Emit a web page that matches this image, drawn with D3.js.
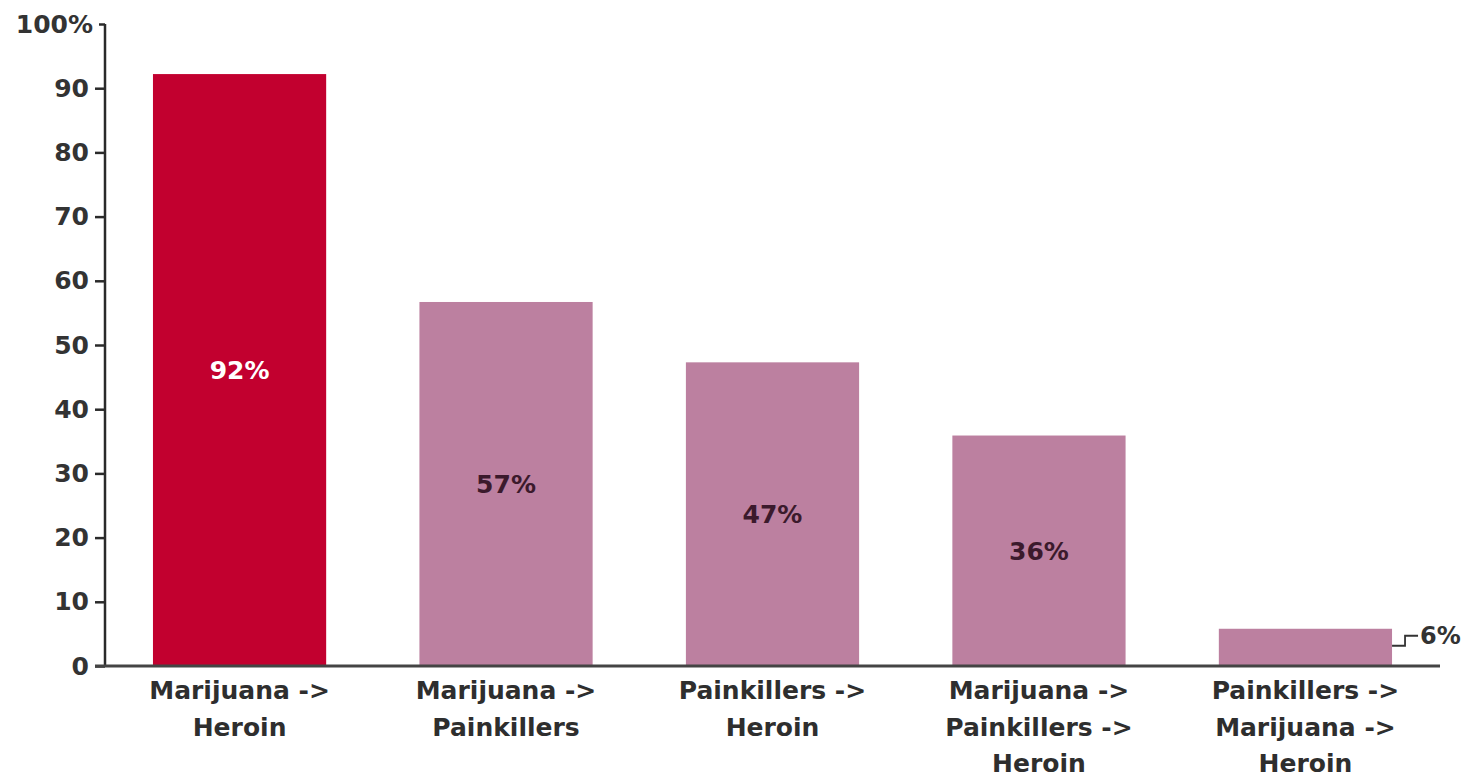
<!DOCTYPE html>
<html>
<head>
<meta charset="utf-8">
<script src="https://cdn.jsdelivr.net/npm/d3@7/dist/d3.min.js"></script>
<style>
  html, body { margin: 0; padding: 0; background: #fff; }
  svg { display: block; }
  text { font-family: "DejaVu Sans", "Open Sans", sans-serif; font-weight: 700; }
</style>
</head>
<body>
<svg id="chart" width="1472" height="779"></svg>
<script>
const categories = [
  ["Marijuana ->", "Heroin"],
  ["Marijuana ->", "Painkillers"],
  ["Painkillers ->", "Heroin"],
  ["Marijuana ->", "Painkillers ->", "Heroin"],
  ["Painkillers ->", "Marijuana ->", "Heroin"]
];
const values = [92.2, 56.7, 47.3, 35.9, 5.8];
const valueLabels = ["92%", "57%", "47%", "36%", "6%"];
const highlight = [true, false, false, false, false];
const tickValues = [0, 10, 20, 30, 40, 50, 60, 70, 80, 90, 100];

const svg = d3.select("#chart");
const x0 = 105, x1 = 1440, yTop = 24, yBase = 666;

const x = d3.scaleBand()
  .domain(d3.range(values.length))
  .range([x0, x1])
  .paddingInner(0.35)
  .paddingOuter(0.18);

const y = d3.scaleLinear().domain([0, 100]).range([yBase, yTop]);

// bars
svg.append("g").selectAll("rect")
  .data(values)
  .join("rect")
  .attr("x", (d, i) => x(i))
  .attr("y", d => y(d))
  .attr("width", x.bandwidth())
  .attr("height", d => y(0) - y(d))
  .attr("fill", (d, i) => highlight[i] ? "#c2002f" : "#bc80a0");

// y axis
const yAxis = d3.axisLeft(y)
  .tickValues(tickValues)
  .tickSize(10)
  .tickPadding(6)
  .tickFormat(d => d === 100 ? "100%" : d);
const gy = svg.append("g").attr("transform", `translate(${x0},0)`).call(yAxis);
gy.select(".domain").attr("stroke", "#2a2a2a").attr("stroke-width", 2.5)
  .attr("d", `M0,${yTop}V${yBase}`);
gy.selectAll(".tick line").attr("stroke", "#2a2a2a").attr("stroke-width", 2.5);
gy.selectAll(".tick text").attr("fill", "#333").attr("font-size", 25)
  .style("font-family", '"DejaVu Sans", sans-serif').style("font-weight", 700);
gy.selectAll(".tick").filter(d => d === 100).select("line").attr("x2", -6);
gy.selectAll(".tick").filter(d => d === 100).select("text").attr("x", -12);

// baseline
svg.append("line")
  .attr("x1", x0 - 10).attr("x2", x1)
  .attr("y1", y(0)).attr("y2", y(0))
  .attr("stroke", "#444").attr("stroke-width", 3);

// category labels
const cat = svg.append("g").selectAll("text")
  .data(categories)
  .join("text")
  .attr("text-anchor", "middle")
  .attr("fill", "#2e2e2e")
  .attr("font-size", 25);
cat.each(function(lines, i) {
  d3.select(this).selectAll("tspan")
    .data(lines)
    .join("tspan")
    .attr("x", x(i) + x.bandwidth() / 2)
    .attr("y", (l, j) => yBase + 33 + j * 36.5)
    .text(l => l);
});

// value labels inside bars (all but the tiny last one)
svg.append("g").selectAll("text")
  .data(values.slice(0, 4))
  .join("text")
  .attr("x", (d, i) => x(i) + x.bandwidth() / 2)
  .attr("y", d => (y(d) + y(0)) / 2)
  .attr("dy", "0.36em")
  .attr("text-anchor", "middle")
  .attr("font-size", 25)
  .attr("fill", (d, i) => highlight[i] ? "#ffffff" : "#3b1a2c")
  .text((d, i) => valueLabels[i]);

// callout for last bar
const li = values.length - 1;
const bx = x(li) + x.bandwidth();
const by = y(values[li]);
svg.append("path")
  .attr("d", `M${bx},${by + 17}H${bx + 13}V${by + 7}H${bx + 26}`)
  .attr("fill", "none").attr("stroke", "#333").attr("stroke-width", 1.8);
svg.append("text")
  .attr("x", bx + 28).attr("y", by + 7).attr("dy", "0.36em")
  .attr("font-size", 24).attr("fill", "#333")
  .text(valueLabels[li]);
</script>
</body>
</html>
